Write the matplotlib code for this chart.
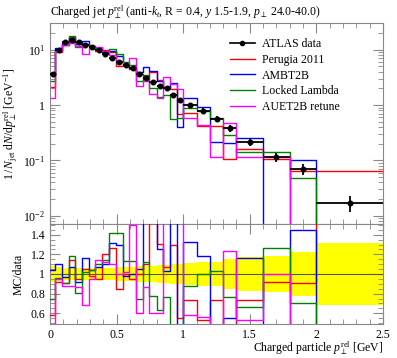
import numpy as np
import matplotlib
matplotlib.use("Agg")
import matplotlib.pyplot as plt
from matplotlib.lines import Line2D
from matplotlib.ticker import LogLocator, MultipleLocator, NullFormatter, FixedLocator

plt.rcParams['font.family'] = ['Liberation Serif', 'DejaVu Serif']
plt.rcParams['mathtext.fontset'] = 'custom'
plt.rcParams['mathtext.rm'] = 'Liberation Serif'
plt.rcParams['mathtext.it'] = 'Liberation Serif:italic'
plt.rcParams['mathtext.bf'] = 'Liberation Serif:bold'

# ---- data ----
edges = [0.0, 0.04, 0.09, 0.14, 0.19, 0.24, 0.29, 0.34, 0.39, 0.44, 0.495,
         0.545, 0.595, 0.645, 0.695, 0.745, 0.8, 0.85, 0.9, 0.95, 1.0,
         1.1, 1.2, 1.3, 1.4, 1.6, 1.8, 2.0, 2.5]
data = [3.6, 9.9, 13.6, 15.0, 13.6, 12.2, 11.3, 9.9, 8.4, 7.2, 5.9, 5.4, 4.7, 3.7,
        3.1, 2.6, 2.2, 2.0, 1.5, 1.23, 1.0, 0.79, 0.57, 0.38, 0.217, 0.113, 0.070, 0.017]
data_relerr = [0.085, 0.07, 0.06, 0.06, 0.06, 0.06, 0.06, 0.06, 0.06, 0.06, 0.07, 0.07,
               0.07, 0.08, 0.08, 0.08, 0.09, 0.09, 0.10, 0.10, 0.11, 0.12, 0.12, 0.155,
               0.17, 0.18, 0.22, 0.32]
# MC / data ratios
ratio_perugia = [0.58, 0.92, 0.91, 1.14, 0.95, 1.05, 0.98, 0.95, 1.20, 1.27, 0.85, 1.00,
                 0.95, 1.00, 1.10, 1.52, 1.31, 1.07, 1.30, 0.55, 0.73, 0.53, 0.73, 0.28,
                 0.73, 0.92, 0.91, 3.8]
ratio_ambt2b = [1.04, 1.10, 0.97, 1.07, 0.92, 1.16, 1.04, 1.07, 1.10, 1.32, 1.30, 0.98,
                1.00, 1.05, 1.60, 1.60, 1.25, 1.03, 1.70, 0.33, 1.33, 1.18, 0.37, 0.55,
                1.16, 0.0, 1.45, 0.0]
ratio_locked = [0.75, 0.96, 0.91, 1.18, 0.81, 1.02, 1.04, 1.10, 1.14, 1.42, 1.42, 1.13,
                1.13, 0.75, 1.12, 0.78, 0.63, 0.77, 0.38, 0.47, 0.88, 1.00, 1.03, 0.77,
                0.66, 1.27, 0.70, 0.0]
ratio_auet2b = [0.38, 0.95, 0.88, 0.88, 0.87, 0.68, 0.95, 1.14, 1.12, 1.10, 1.00, 1.02,
                1.50, 0.60, 0.87, 0.60, 0.60, 1.60, 1.60, 1.60, 0.58, 0.56, 0.20, 1.23,
                0.53, 1.00, 0.0, 0.0]

labels = ['Perugia 2011', 'AMBT2B', 'Locked Lambda', 'AUET2B retune']
colors = ['#ff0000', '#0000ff', '#008000', '#ff00ff']
ratios = [ratio_perugia, ratio_ambt2b, ratio_locked, ratio_auet2b]

edges_a = np.array(edges)
data_a = np.array(data)
rel_a = np.array(data_relerr)
centers = 0.5 * (edges_a[1:] + edges_a[:-1])
halfw = 0.5 * (edges_a[1:] - edges_a[:-1])


def step_xy(vals, floor):
    v = np.where(np.asarray(vals) > 0, vals, floor)
    x = np.repeat(edges_a, 2)[1:-1]
    y = np.repeat(v, 2)
    return x, y


fig = plt.figure(figsize=(3.97, 3.58), dpi=100)
W, H = 397.0, 358.0
ax = fig.add_axes([50 / W, 1 - 224 / H, 333 / W, 201 / H])
rax = fig.add_axes([50 / W, 1 - 324 / H, 333 / W, 100 / H], sharex=ax)

fs = 8.5
# main panel
handles = [Line2D([], [], color='black', marker='o', ms=3, lw=1.2)]
for r, c, lab in zip(ratios, colors, labels):
    mc = np.array(r) * data_a
    x, y = step_xy(mc, 1e-6)
    h, = ax.plot(x, y, color=c, lw=1.0, zorder=2)
    handles.append(h)
ax.errorbar(centers, data_a, xerr=halfw, yerr=data_a * rel_a, fmt='o', color='black',
            ms=3.3, elinewidth=1.3, capsize=0, zorder=5)
ax.set_yscale('log')
ax.set_xlim(0, 2.5)
ax.set_ylim(10 ** -2.15, 10 ** 1.483)
ax.yaxis.set_minor_locator(LogLocator(base=10, subs=np.arange(2, 10), numticks=20))
ax.yaxis.set_minor_formatter(NullFormatter())
ax.set_yticks([0.01, 0.1, 1, 10])
ax.set_yticklabels([r'$10^{-2}$', r'$10^{-1}$', '1', r'$10^{1}$'])
ax.xaxis.set_major_locator(MultipleLocator(0.5))
ax.xaxis.set_minor_locator(MultipleLocator(0.1))
plt.setp(ax.get_xticklabels(), visible=False)
ax.set_ylabel(r'$1\,/\,N_{\rm jet}\;{\rm d}N/{\rm d}p_{\perp}^{\rm rel}$ [GeV$^{-1}$]',
              fontsize=fs, labelpad=2)
ax.legend(handles, ['ATLAS data'] + labels, loc='upper left',
          bbox_to_anchor=(0.54, 0.925), frameon=False, fontsize=fs, handlelength=2.1,
          handletextpad=0.6, labelspacing=0.32, borderaxespad=0.0, borderpad=0.0)
ax.set_title(r'Charged jet $p_{\perp}^{\rm rel}$ (anti-$k_t$, R = 0.4, $y$ 1.5-1.9, '
             r'$p_{\perp}$ 24.0-40.0)', fontsize=fs, loc='left', pad=5)

# ratio panel
rax.stairs(1 + rel_a, edges_a, baseline=1 - rel_a, fill=True, color='#ffff00', lw=0, zorder=1)
rax.axhline(1.0, color='#555555', lw=0.8, zorder=2)
for r, c in zip(ratios, colors):
    x, y = step_xy(r, -1.0)
    rax.plot(x, y, color=c, lw=1.0, zorder=3)
rax.set_ylim(0.49, 1.51)
rax.set_xlim(0, 2.5)
rax.yaxis.set_major_locator(FixedLocator([0.6, 0.8, 1.0, 1.2, 1.4]))
rax.set_yticklabels(['0.6', '0.8', '1', '1.2', '1.4'])
rax.yaxis.set_minor_locator(MultipleLocator(0.05))
rax.set_xticks([0, 0.5, 1, 1.5, 2, 2.5])
rax.set_xticklabels(['0', '0.5', '1', '1.5', '2', '2.5'])
rax.set_ylabel('MC/data', fontsize=fs, labelpad=4)
rax.set_xlabel(r'Charged particle $p_{\perp}^{\rm rel}$ [GeV]', fontsize=fs, loc='right',
               labelpad=-1)

for a in (ax, rax):
    a.tick_params(which='both', direction='in', top=True, right=True, labelsize=fs,
                  color='#888888')
    a.tick_params(which='major', length=7, width=0.8)
    a.tick_params(which='minor', length=3.5, width=0.6)
    for s in a.spines.values():
        s.set_color('#888888')
        s.set_linewidth(0.8)

fig.savefig('out.png', dpi=100)
